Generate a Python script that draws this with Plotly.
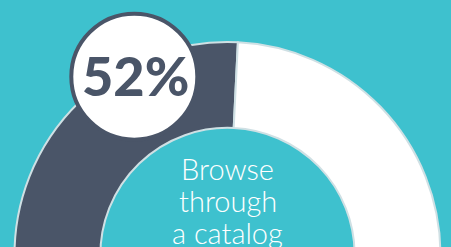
import plotly.graph_objects as go

# ---- data ----
labels = ["Browse through a catalog", "Other"]
values = [52, 48]
badge_text = f"{values[0]}%"
center_lines = ["Browse", "through", "a catalog"]

# ---- style ----
W, H = 451, 480
BG = "#3ec1ce"
DARK = "#4a5568"
WHITE = "#ffffff"
EDGE = "#cfe0e4"

def px(x):
    return x / W

def py(y):
    return 1 - y / H

cx, cy, R = 227.5, 255, 213
end_angle = 2.8  # where the first slice ends (degrees clockwise from 12 o'clock)
start_angle = end_angle - 360 * values[0] / sum(values)

fig = go.Figure()
fig.add_trace(go.Pie(
    labels=labels,
    values=values,
    hole=0.597,
    sort=False,
    direction="clockwise",
    rotation=start_angle,
    marker=dict(colors=[DARK, WHITE], line=dict(color=EDGE, width=2)),
    textinfo="none",
    hoverinfo="label+percent",
    showlegend=False,
    domain=dict(x=[px(cx - R), px(cx + R)], y=[py(cy + R), py(cy - R)]),
))

# badge circle
bcx, bcy, br = 134.3, 76.7, 63
fig.add_shape(type="circle", xref="paper", yref="paper",
              x0=px(bcx - br), x1=px(bcx + br), y0=py(bcy + br), y1=py(bcy - br),
              fillcolor=WHITE, line=dict(color=DARK, width=4), layer="above")
fig.add_annotation(x=px(bcx + 1.5), y=py(bcy - 1), xref="paper", yref="paper",
                   text=badge_text, showarrow=False,
                   font=dict(family="Lato", size=54, color=DARK, weight=900),
                   xanchor="center", yanchor="middle")

# center label
baselines = [182, 214, 246]
for line, b in zip(center_lines, baselines):
    fig.add_annotation(x=px(228), y=py(b + 6), xref="paper", yref="paper",
                       text=line, showarrow=False,
                       font=dict(family="Lato", size=29, color=WHITE, weight=300),
                       xanchor="center", yanchor="bottom")

fig.update_layout(
    width=W, height=H,
    margin=dict(l=0, r=0, t=0, b=0),
    paper_bgcolor=BG, plot_bgcolor=BG,
)

fig.write_html(
    "out.html",
    config={"displayModeBar": False},
    post_script="document.body.style.margin='0';document.body.style.overflow='hidden';document.documentElement.style.overflow='hidden';",
)
